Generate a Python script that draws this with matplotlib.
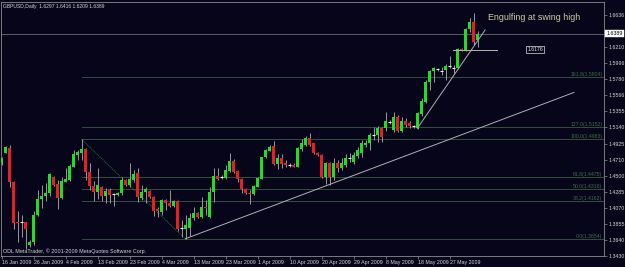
import matplotlib
matplotlib.use("Agg")
import matplotlib.pyplot as plt
from matplotlib.transforms import blended_transform_factory

plt.rcParams['font.family'] = ['Liberation Sans', 'DejaVu Sans']

# ---- data (GBPUSD daily, bar index 0 = 16 Jan 2009) ----
opens = [1.4663, 1.4804, 1.4863, 1.4418, 1.3882, 1.3877, 1.3878, 1.3576, 1.3620, 1.3975,
         1.4184, 1.4228, 1.4272, 1.4481, 1.4384, 1.4202, 1.4418, 1.4441, 1.4618, 1.4774,
         1.4804, 1.4849, 1.4551, 1.4355, 1.4285, 1.4352, 1.4228, 1.4308, 1.4255, 1.4241,
         1.4264, 1.4441, 1.4370, 1.4441, 1.4530, 1.4198, 1.4285, 1.4295, 1.4219, 1.4051,
         1.4019, 1.4175, 1.4131, 1.4095, 1.4162, 1.3807, 1.3789, 1.3799, 1.3932, 1.3998,
         1.3953, 1.4078, 1.3945, 1.4285, 1.4494, 1.4477, 1.4464, 1.4565, 1.4698, 1.4565,
         1.4454, 1.4317, 1.4272, 1.4255, 1.4352, 1.4454, 1.4743, 1.4831, 1.4897, 1.4654,
         1.4730, 1.4671, 1.4640, 1.4640, 1.4618, 1.4849, 1.4906, 1.4996, 1.4929, 1.4804,
         1.4774, 1.4477, 1.4663, 1.4477, 1.4671, 1.4601, 1.4640, 1.4734, 1.4680, 1.4760,
         1.4796, 1.4903, 1.4929, 1.5039, 1.5033, 1.5129, 1.5129, 1.5216, 1.5106, 1.5283,
         1.5097, 1.5226, 1.5199, 1.5153, 1.5126, 1.5312, 1.5482, 1.5748, 1.5891, 1.5911,
         1.5897, 1.5904, 1.5951, 1.5935, 1.5927, 1.6187, 1.6170, 1.6445, 1.6546, 1.6297]
highs = [1.4747, 1.4893, 1.4906, 1.4428, 1.4029, 1.3975, 1.3882, 1.3643, 1.4029, 1.4308,
         1.4374, 1.4401, 1.4534, 1.4488, 1.4441, 1.4481, 1.4601, 1.4660, 1.4840, 1.4840,
         1.4982, 1.4863, 1.4663, 1.4428, 1.4594, 1.4361, 1.4331, 1.4331, 1.4272, 1.4284,
         1.4485, 1.4450, 1.4663, 1.4574, 1.4597, 1.4374, 1.4352, 1.4308, 1.4228, 1.4078,
         1.4184, 1.4184, 1.4308, 1.4175, 1.4175, 1.3909, 1.3975, 1.3998, 1.4078, 1.4015,
         1.4219, 1.4175, 1.4344, 1.4597, 1.4597, 1.4507, 1.4640, 1.4796, 1.4716, 1.4574,
         1.4464, 1.4331, 1.4308, 1.4374, 1.4485, 1.4751, 1.4849, 1.4906, 1.4964, 1.4787,
         1.4787, 1.4707, 1.4671, 1.4663, 1.4876, 1.4982, 1.5026, 1.5070, 1.4937, 1.4813,
         1.4787, 1.4684, 1.4684, 1.4734, 1.4707, 1.4734, 1.4787, 1.4800, 1.4817, 1.4880,
         1.4973, 1.4973, 1.5070, 1.5150, 1.5159, 1.5150, 1.5345, 1.5239, 1.5349, 1.5305,
         1.5279, 1.5262, 1.5226, 1.5173, 1.5349, 1.5528, 1.5771, 1.5904, 1.5944, 1.5931,
         1.5940, 1.5977, 1.6090, 1.5970, 1.6193, 1.6197, 1.6459, 1.6592, 1.6658, 1.6416]
lows = [1.4640, 1.4796, 1.4341, 1.3789, 1.3620, 1.3687, 1.3517, 1.3554, 1.3576, 1.3962,
        1.4065, 1.4162, 1.4222, 1.4361, 1.4049, 1.4182, 1.4408, 1.4434, 1.4610, 1.4707,
        1.4703, 1.4441, 1.4304, 1.4155, 1.4182, 1.4168, 1.4131, 1.4131, 1.4095, 1.4228,
        1.4241, 1.4361, 1.4352, 1.4418, 1.4152, 1.4175, 1.4131, 1.4198, 1.3962, 1.3953,
        1.3975, 1.4042, 1.4086, 1.4082, 1.3756, 1.3687, 1.3654, 1.3696, 1.3909, 1.3936,
        1.3932, 1.3975, 1.3932, 1.4152, 1.4441, 1.4450, 1.4450, 1.4551, 1.4538, 1.4418,
        1.4264, 1.4255, 1.4122, 1.4241, 1.4344, 1.4450, 1.4730, 1.4827, 1.4640, 1.4583,
        1.4597, 1.4614, 1.4618, 1.4610, 1.4610, 1.4831, 1.4893, 1.4893, 1.4787, 1.4764,
        1.4464, 1.4388, 1.4374, 1.4441, 1.4547, 1.4574, 1.4614, 1.4680, 1.4654, 1.4734,
        1.4751, 1.4880, 1.4840, 1.4973, 1.4951, 1.4951, 1.5086, 1.5186, 1.5083, 1.5083,
        1.5073, 1.5146, 1.5133, 1.5133, 1.5115, 1.5292, 1.5469, 1.5638, 1.5748, 1.5891,
        1.5837, 1.5771, 1.5927, 1.5864, 1.5913, 1.6157, 1.6161, 1.6413, 1.6236, 1.6209]
closes = [1.4730, 1.4876, 1.4418, 1.3873, 1.3869, 1.3876, 1.3789, 1.3620, 1.3975, 1.4184,
          1.4228, 1.4272, 1.4517, 1.4374, 1.4208, 1.4428, 1.4454, 1.4621, 1.4787, 1.4817,
          1.4849, 1.4551, 1.4355, 1.4285, 1.4374, 1.4228, 1.4299, 1.4241, 1.4254, 1.4272,
          1.4441, 1.4374, 1.4450, 1.4521, 1.4211, 1.4285, 1.4321, 1.4211, 1.4033, 1.4029,
          1.4175, 1.4131, 1.4095, 1.4162, 1.3792, 1.3806, 1.3842, 1.3932, 1.3998, 1.3953,
          1.4078, 1.4065, 1.4285, 1.4494, 1.4450, 1.4476, 1.4574, 1.4698, 1.4551, 1.4450,
          1.4317, 1.4272, 1.4255, 1.4361, 1.4464, 1.4743, 1.4840, 1.4884, 1.4654, 1.4730,
          1.4654, 1.4640, 1.4639, 1.4618, 1.4863, 1.4929, 1.4996, 1.4906, 1.4796, 1.4774,
          1.4477, 1.4663, 1.4477, 1.4671, 1.4601, 1.4667, 1.4734, 1.4733, 1.4774, 1.4840,
          1.4929, 1.4937, 1.5039, 1.5040, 1.5137, 1.5009, 1.5230, 1.5215, 1.5283, 1.5097,
          1.5232, 1.5172, 1.5159, 1.5152, 1.5328, 1.5498, 1.5748, 1.5891, 1.5927, 1.5910,
          1.5896, 1.5957, 1.5950, 1.5934, 1.6179, 1.6161, 1.6445, 1.6546, 1.6280, 1.6389]

date_positions = [0, 8, 16, 24, 32, 40, 48, 56, 64, 72, 80, 88, 96, 104, 112]
date_labels = ["16 Jan 2009", "26 Jan 2009", "4 Feb 2009", "13 Feb 2009", "23 Feb 2009",
               "4 Mar 2009", "13 Mar 2009", "23 Mar 2009", "1 Apr 2009", "10 Apr 2009",
               "20 Apr 2009", "29 Apr 2009", "8 May 2009", "18 May 2009", "27 May 2009"]

price_ticks = [1.3430, 1.3640, 1.3855, 1.4070, 1.4285, 1.4500, 1.4710, 1.4925, 1.5140,
               1.5355, 1.5566, 1.5780, 1.5996, 1.6210, 1.6636]
price_tick_labels = ["1.3430", "1.3640", "1.3855", "1.4070", "1.4285", "1.4500", "1.4710",
                     "1.4925", "1.5140", "1.5355", "1.5566", "1.5780", "1.5996", "1.6210",
                     "1.6636"]

fib_prices = [1.5804, 1.5146, 1.4983, 1.4475, 1.4316, 1.4162, 1.3654]
fib_labels = ["161.8(1.5804)", "127.0(1.5152)", "100.0(1.4983)", "61.8(1.4475)",
              "50.0(1.4316)", "38.2(1.4162)", "0.0(1.3654)"]
fib_start_bar = 20
fib_line_x = [20, 46]
fib_line_y = [1.4983, 1.3654]

trend_long_x = [46, 143.1]
trend_long_y = [1.3660, 1.5605]
trend_steep_x = [103.95, 120.9]
trend_steep_y = [1.5128, 1.6436]

level_x = [112.9, 123.9]
level_price = 1.6176
bid_price = 1.6389
header = "GBPUSD,Daily  1.6297 1.6416 1.6209 1.6389"
note_text = "Engulfing at swing high"
note_pos = (121.6, 1.6596)
label_pos = (133.4, 1.6176)
copyright_text = "ODL MetaTrader, \u00a9 2001-2009 MetaQuotes Software Corp."

# ---- style ----
BG = '#07051a'
FRAME = '#8c8c8c'
TXT = '#d4d4d4'
UP = '#22dd22'
DOWN = '#e42020'
WICK = '#9a9a9a'
FIBC = '#33503a'
FIBT = '#3f6e48'

fig = plt.figure(figsize=(6.25, 2.67), dpi=100, facecolor=BG)
ax = fig.add_axes([1 / 625, 11 / 267, 603 / 625, 254 / 267], facecolor=BG)

n = len(opens)
xs = list(range(n))
ax.vlines(xs, lows, highs, color=WICK, lw=0.7, zorder=3)
minh = 0.0014
for x, o, c in zip(xs, opens, closes):
    if abs(c - o) < 0.0003:
        ax.hlines(o, x - 0.45, x + 0.45, color='#f0f0f0', lw=0.8, zorder=4)
        continue
    col = UP if c > o else DOWN
    bot = min(o, c)
    h = max(abs(c - o), minh)
    ax.bar(x, h, bottom=bot, width=0.8, color=col, lw=0, zorder=4)

# fibonacci levels
for p, lab in zip(fib_prices, fib_labels):
    ax.plot([fib_start_bar, 160], [p, p], color=FIBC, lw=0.7, zorder=1)
    ax.text(150.2, p + 0.0006, lab, color=FIBT, fontsize=3.7, ha='right', va='bottom', zorder=2)
ax.plot(fib_line_x, fib_line_y, color='#1f7a1f', lw=0.7, ls=(0, (1, 1)), zorder=2)

# trend lines
ax.plot(trend_long_x, trend_long_y, color='#b0b0b0', lw=0.7, zorder=5)
ax.plot(trend_steep_x, trend_steep_y, color='#b0b0b0', lw=0.7, zorder=5)
ax.plot(level_x, [level_price, level_price], color='#bdb6a4', lw=0.7, zorder=5)

# bid line
ax.axhline(bid_price, color='#808080', lw=0.5, zorder=1)

# texts
ax.text(note_pos[0], note_pos[1], note_text, color='#d6c9a2', fontsize=6.4, ha='left', va='center')
ax.text(label_pos[0], label_pos[1], "1.6176", color='#e8e8e8', fontsize=3.7, ha='center', va='center',
        bbox=dict(boxstyle='square,pad=0.25', fc=BG, ec='#e0e0e0', lw=0.5))
ax.text(0.004, 0.992, header, transform=ax.transAxes, color=TXT, fontsize=3.6, ha='left', va='top')
ax.text(0.004, 0.008, copyright_text, transform=ax.transAxes, color=TXT, fontsize=3.9,
        ha='left', va='bottom')

tr = blended_transform_factory(ax.transAxes, ax.transData)
ax.text(1.004, bid_price, "1.6389", transform=tr, color='black', fontsize=3.8, ha='left', va='center',
        bbox=dict(boxstyle='square,pad=0.2', fc='white', ec='white', lw=0.3), zorder=10, clip_on=False)

# axes
ax.set_xlim(-0.125, 150.625)
ax.set_ylim(1.3430, 1.6808)
ax.yaxis.tick_right()
ax.set_yticks(price_ticks)
ax.set_yticklabels(price_tick_labels)
ax.set_xticks(date_positions)
ax.set_xticklabels(date_labels)
for lbl in ax.get_xticklabels():
    lbl.set_ha('left')
ax.tick_params(axis='y', color=FRAME, labelcolor=TXT, labelsize=3.8, length=2, width=0.5, pad=1)
ax.tick_params(axis='x', color=FRAME, labelcolor=TXT, labelsize=3.8, length=2.5, width=0.5, pad=0.5)
for s in ax.spines.values():
    s.set_color(FRAME)
    s.set_linewidth(0.6)

fig.savefig('out.png', dpi=100, facecolor=BG)
